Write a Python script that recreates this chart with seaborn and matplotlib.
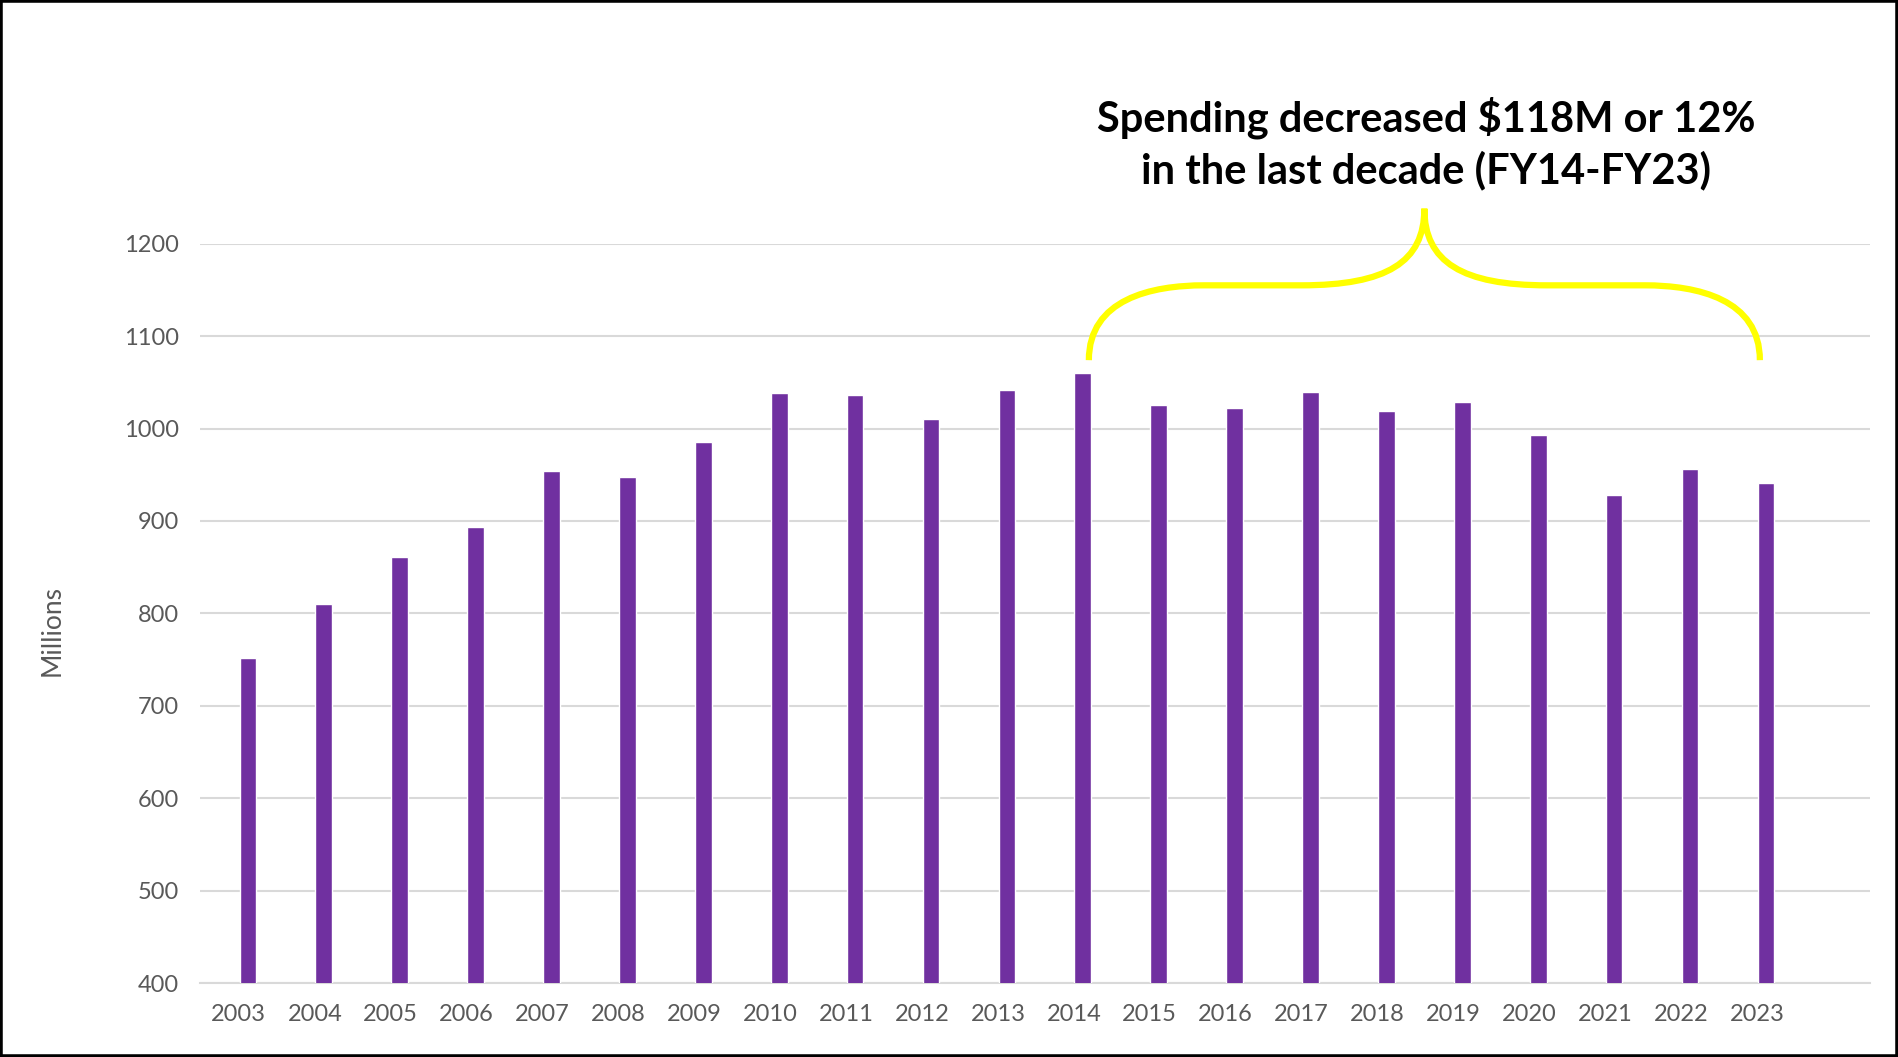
import numpy as np
import pandas as pd
import matplotlib.pyplot as plt
import matplotlib.transforms as mtransforms
from matplotlib.path import Path
from matplotlib.patches import PathPatch, Rectangle
import seaborn as sns

# dane - wydatki w mln
years = [str(y) for y in range(2003, 2024)]
spending = [752, 810, 861, 893, 954, 948, 985, 1039, 1036, 1010, 1042,
            1060, 1026, 1022, 1040, 1019, 1029, 993, 928, 956, 941]
note = 'Spending decreased $118M or 12%\nin the last decade (FY14-FY23)'
brace_from, brace_to = '2014', '2023'

df = pd.DataFrame({'year': years, 'spending': spending})

sns.set_style('white')
plt.rcParams['font.family'] = ['Lato', 'DejaVu Sans']

fig = plt.figure(figsize=(18.98, 10.57), dpi=100)
ax = fig.add_axes([0.1054, 0.070, 0.8798, 0.6994])

sns.barplot(data=df, x='year', y='spending', color='#7030A0', saturation=1,
            width=0.22, ax=ax, zorder=3)

ax.set_ylim(400, 1200)
ax.set_xlim(-0.63, 21.37)
ax.set_yticks(range(400, 1201, 100))
ax.yaxis.grid(True, color='#d9d9d9', linewidth=1.5, zorder=0)
ax.set_axisbelow(True)
for s in ['top', 'right', 'left']:
    ax.spines[s].set_visible(False)
ax.spines['bottom'].set_color('#d9d9d9')
ax.spines['bottom'].set_linewidth(1.5)
ax.tick_params(axis='both', length=0, labelsize=17, labelcolor='#595959')
ax.tick_params(axis='y', pad=15)
ax.tick_params(axis='x', pad=15)
shift = mtransforms.ScaledTranslation(-9 / 100, 0, fig.dpi_scale_trans)
for lab in ax.get_xticklabels():
    lab.set_transform(lab.get_transform() + shift)
ax.set_xlabel('')
ax.set_ylabel('Millions', fontsize=19, color='#595959')
ax.yaxis.set_label_coords(-0.081, 0.477)

# klamra nad latami FY14-FY23
i0 = years.index(brace_from) + 0.08
i1 = years.index(brace_to) - 0.08
mid = (i0 + i1) / 2
y_end, y_flat, y_tip = 1074, 1155, 1238
def half(sign, start):
    c = mid
    pts = [(start, y_end),
           (start, y_end + 66), (start + sign * 0.82, y_flat), (start + sign * 1.52, y_flat),
           (c - sign * 1.62, y_flat),
           (c - sign * 0.5, y_flat), (c, y_flat + 25), (c, y_tip)]
    return pts
left = half(1, i0)
right = half(-1, i1)[::-1]
verts = left + right[1:]
codes = ([Path.MOVETO] + [Path.CURVE4] * 3 + [Path.LINETO] + [Path.CURVE4] * 3 +
         [Path.CURVE4] * 3 + [Path.LINETO] + [Path.CURVE4] * 3)
brace = PathPatch(Path(verts, codes), facecolor='none', edgecolor='#FFFF00',
                  linewidth=4.5, clip_on=False, zorder=5, capstyle='butt')
ax.add_patch(brace)

fig.text(0.7513, 0.8645, note, ha='center', va='center', fontsize=30,
         fontweight='bold', color='black', linespacing=1.35)

fig.patches.append(Rectangle((0, 0), 1, 1, transform=fig.transFigure, fill=False,
                             edgecolor='black', linewidth=4))

fig.savefig('out.png', dpi=100)
